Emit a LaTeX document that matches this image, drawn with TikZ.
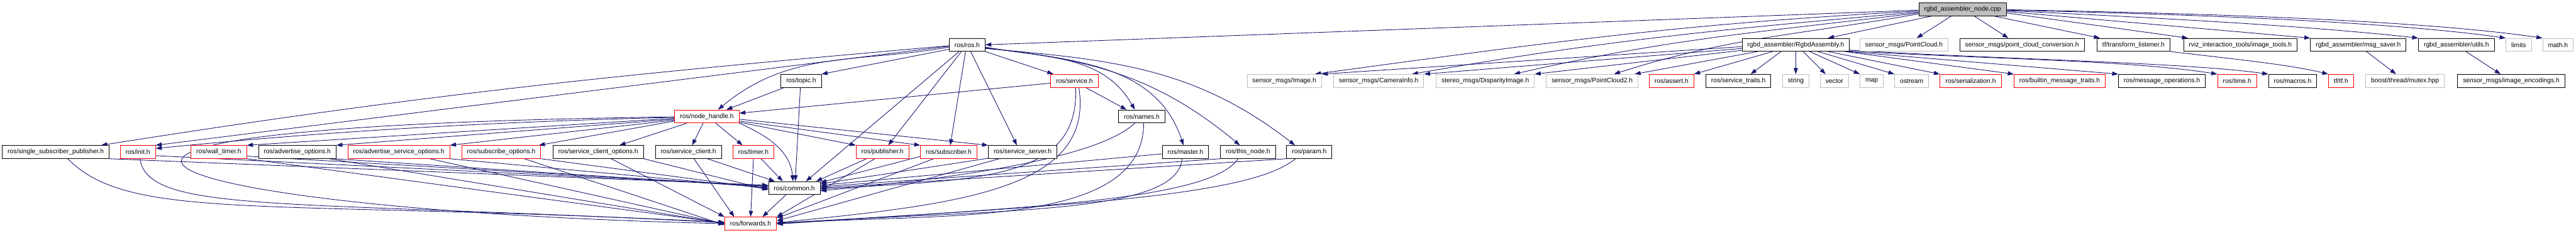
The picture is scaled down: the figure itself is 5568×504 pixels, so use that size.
\documentclass[tikz,border=0pt]{standalone}
\usepackage{fontspec}
\setmainfont{Liberation Sans}
\usetikzlibrary{arrows.meta, positioning, backgrounds}

\definecolor{edgeblue}{HTML}{191970}
\definecolor{grayline}{HTML}{BFBFBF}

\begin{document}
\begin{tikzpicture}[x=1pt, y=-1pt, font=\fontsize{14}{16}\selectfont]
    \tikzstyle{nodebox}=[draw, line width=1.2pt, minimum height=28pt, inner xsep=11.5pt, inner ysep=0pt, rectangle, fill=white]
    \tikzstyle{redbox}=[nodebox, draw=red]
    \tikzstyle{graybox}=[nodebox, draw=grayline]
    \tikzstyle{topbox}=[nodebox, fill=grayline]
    \tikzstyle{edge}=[->, >={Triangle[length=13pt, width=9pt]}, draw=edgeblue, line width=1.2pt]

    \useasboundingbox (0, 0) rectangle (5568, 504);

    % the file itself
    \node[topbox] (nodeCpp) at (4242, 20) {rgbd\_assembler\_node.cpp};

    % first level
    \node[nodebox] (rosH) at (2090.5, 97) {ros/ros.h};
    \node[nodebox] (assembly) at (3881.5, 97) {rgbd\_assembler/RgbdAssembly.h};
    \node[graybox] (pointCloud) at (4115.5, 97) {sensor\_msgs/PointCloud.h};
    \node[nodebox] (cloudConv) at (4370.5, 97) {sensor\_msgs/point\_cloud\_conversion.h};
    \node[nodebox] (tfListener) at (4611.5, 97) {tf/transform\_listener.h};
    \node[nodebox] (imageTools) at (4842.5, 97) {rviz\_interaction\_tools/image\_tools.h};
    \node[nodebox] (msgSaver) at (5097.5, 97) {rgbd\_assembler/msg\_saver.h};
    \node[nodebox] (utils) at (5309.5, 97) {rgbd\_assembler/utils.h};
    \node[graybox] (limits) at (5444, 97) {limits};
    \node[graybox] (mathH) at (5529, 97) {math.h};

    % second level
    \node[nodebox] (topic) at (1731.5, 175) {ros/topic.h};
    \node[redbox] (service) at (2322.5, 175) {ros/service.h};
    \node[graybox] (image) at (2776, 175) {sensor\_msgs/Image.h};
    \node[graybox] (camera) at (2980, 175) {sensor\_msgs/CameraInfo.h};
    \node[graybox] (disparity) at (3210.5, 175) {stereo\_msgs/DisparityImage.h};
    \node[graybox] (cloudTwo) at (3441.5, 175) {sensor\_msgs/PointCloud2.h};
    \node[redbox] (assertH) at (3613, 175) {ros/assert.h};
    \node[nodebox] (srvTraits) at (3757.5, 175) {ros/service\_traits.h};
    \node[graybox] (stringH) at (3881.5, 175) {string};
    \node[graybox] (vectorH) at (3965, 175) {vector};
    \node[graybox] (mapH) at (4045.5, 175) {map};
    \node[graybox] (ostream) at (4132, 175) {ostream};
    \node[redbox] (serialization) at (4259.5, 175) {ros/serialization.h};
    \node[redbox] (builtin) at (4452, 175) {ros/builtin\_message\_traits.h};
    \node[nodebox] (msgOps) at (4673, 175) {ros/message\_operations.h};
    \node[redbox] (timeH) at (4835.5, 175) {ros/time.h};
    \node[nodebox] (macros) at (4955.5, 175) {ros/macros.h};
    \node[redbox] (tfH) at (5060, 175) {tf/tf.h};
    \node[graybox] (mutex) at (5198.5, 175) {boost/thread/mutex.hpp};
    \node[nodebox] (encodings) at (5428, 175) {sensor\_msgs/image\_encodings.h};

    % third level
    \node[redbox] (nodeHandle) at (1528, 252) {ros/node\_handle.h};
    \node[nodebox] (names) at (2468, 252) {ros/names.h};

    % fourth level
    \node[nodebox] (singleSub) at (120.5, 329) {ros/single\_subscriber\_publisher.h};
    \node[redbox, right=23pt of singleSub] (init) {ros/init.h};
    \node[redbox] (wallTimer) at (473, 329) {ros/wall\_timer.h};
    \node[nodebox] (advOpts) at (642.5, 329) {ros/advertise\_options.h};
    \node[redbox] (advSrvOpts) at (862, 329) {ros/advertise\_service\_options.h};
    \node[redbox] (subOpts) at (1083.5, 329) {ros/subscribe\_options.h};
    \node[nodebox] (srvClientOpts) at (1293, 329) {ros/service\_client\_options.h};
    \node[nodebox] (srvClient) at (1488, 329) {ros/service\_client.h};
    \node[redbox] (timer) at (1628.5, 329) {ros/timer.h};
    \node[redbox] (publisher) at (1907.5, 329) {ros/publisher.h};
    \node[redbox] (subscriber) at (2050.5, 329) {ros/subscriber.h};
    \node[nodebox] (srvServer) at (2210.5, 329) {ros/service\_server.h};
    \node[nodebox] (master) at (2562.5, 329) {ros/master.h};
    \node[nodebox] (thisNode) at (2697.5, 329) {ros/this\_node.h};
    \node[nodebox] (param) at (2830, 329) {ros/param.h};

    % bottom
    \node[nodebox] (common) at (1717, 407) {ros/common.h};
    \node[redbox] (forwards) at (1622.5, 484) {ros/forwards.h};

    \begin{scope}[on background layer]
    % includes of the cpp file
    \draw[edge] ([yshift=-2pt]nodeCpp.west) -- (rosH.east);
    \draw[edge] ([yshift=-4pt]nodeCpp.west) .. controls (3637, 51) and (3352, 91) .. ([xshift=66pt]image.north);
    \draw[edge] ([yshift=-6pt]nodeCpp.west) .. controls (3717, 64) and (3477, 86) .. ([xshift=72pt]camera.north);
    \draw[edge] ([yshift=-8pt]nodeCpp.west) .. controls (3804, 70) and (3610, 83) .. ([xshift=62pt]disparity.north);
    \draw[edge] ([yshift=-10pt]nodeCpp.west) .. controls (3888, 76) and (3739, 80) .. ([xshift=47pt]cloudTwo.north);
    \draw[edge] ([xshift=29pt]nodeCpp.south west) -- ([xshift=69.5pt]assembly.north);
    \draw[edge] ([xshift=-24pt]nodeCpp.south) -- ([xshift=27.5pt]pointCloud.north);
    \draw[edge] ([xshift=25pt]nodeCpp.south) -- ([xshift=-29.5pt]cloudConv.north);
    \draw[edge] ([xshift=67pt]nodeCpp.south) -- ([xshift=-72.5pt]tfListener.north);
    \draw[edge] ([yshift=-8pt]nodeCpp.east) -- ([xshift=10pt]imageTools.north west);
    \draw[edge] ([yshift=-5pt]nodeCpp.east) -- (msgSaver.north west);
    \draw[edge] ([yshift=-3pt]nodeCpp.east) .. controls (4650, 38) and (4980, 55) .. (utils.north west);
    \draw[edge] ([yshift=-2pt]nodeCpp.east) .. controls (4700, 30) and (5150, 45) .. (limits.north west);
    \draw[edge] ([yshift=-1pt]nodeCpp.east) .. controls (4720, 28) and (5220, 42) .. (mathH.north west);

    % message header
    \draw[edge] ([yshift=-4pt]assembly.west) -- (image.north east);
    \draw[edge] ([yshift=-8pt]assembly.west) -- (camera.north east);
    \draw[edge] ([yshift=-12pt]assembly.west) -- (disparity.north east);
    \draw[edge] ([xshift=34pt]assembly.south west) -- ([xshift=-8pt]cloudTwo.north east);
    \draw[edge] ([xshift=-50pt]assembly.south) -- (assertH.north east);
    \draw[edge] ([xshift=-32pt]assembly.south) -- ([xshift=26.5pt]srvTraits.north);
    \draw[edge] (assembly.south) -- (stringH.north);
    \draw[edge] ([xshift=16pt]assembly.south) -- ([xshift=-19pt]vectorH.north);
    \draw[edge] ([xshift=30pt]assembly.south) -- (mapH.north west);
    \draw[edge] ([xshift=48pt]assembly.south) -- (ostream.north west);
    \draw[edge] ([xshift=70pt]assembly.south) -- (serialization.north west);
    \draw[edge] ([xshift=-10pt]assembly.south east) -- (builtin.north west);
    \draw[edge] ([xshift=-6pt]assembly.south east) -- (msgOps.north west);
    \draw[edge] ([yshift=1pt]assembly.south east) .. controls (4300, 128) and (4600, 130) .. (timeH.north west);
    \draw[edge] ([yshift=3pt]assembly.south east) .. controls (4320, 128) and (4720, 135) .. (macros.north west);

    \draw[edge] (tfListener.south east) .. controls (4830, 128) and (4950, 140) .. (tfH.north west);
    \draw[edge] ([xshift=17.5pt]msgSaver.south) -- ([xshift=-19.5pt]mutex.north);
    \draw[edge] ([xshift=20.5pt]utils.south) -- ([xshift=-23pt]encodings.north);

    % ros/ros.h
    \draw[edge] (rosH.south east) -- ([xshift=6pt]service.north west);
    \draw[edge] ([yshift=-5pt]rosH.east) .. controls (2265, 126) and (2385, 119) .. ([xshift=-15pt]names.north);
    \draw[edge] ([yshift=-6pt]rosH.east) .. controls (2315, 129) and (2500, 137) .. ([xshift=-4.5pt]master.north);
    \draw[edge] ([yshift=-7pt]rosH.east) .. controls (2360, 128) and (2503, 167) .. ([xshift=-17.5pt]thisNode.north);
    \draw[edge] ([yshift=-8pt]rosH.east) .. controls (2403, 129) and (2583, 146) .. ([xshift=-31pt]param.north);
    \draw[edge] ([xshift=7.5pt]rosH.south) -- ([xshift=-12.5pt]srvServer.north);
    \draw[edge] ([xshift=-3.5pt]rosH.south) -- ([xshift=3.5pt]subscriber.north);
    \draw[edge] ([xshift=-12.5pt]rosH.south) -- ([xshift=12.5pt]publisher.north);
    \draw[edge] ([xshift=-17.5pt]rosH.south) -- ([xshift=25pt]common.north);
    \draw[edge] ([yshift=5pt]rosH.south west) -- (topic.north east);
    \draw[edge] ([yshift=-2pt]rosH.west) .. controls (1332, 162) and (932, 202) .. ([xshift=-18pt]singleSub.north east);
    \draw[edge] ([yshift=-3pt]rosH.west) -- (init.north east);
    \draw[edge] ([yshift=-5pt]rosH.west) .. controls (1852, 137) and (1707, 108) .. ([xshift=24pt]nodeHandle.north);

    % ros/node_handle.h
    \draw[edge] ([xshift=-36.5pt]topic.south) -- ([xshift=42pt]nodeHandle.north);
    \draw[edge] ([yshift=-5pt]service.west) -- ([yshift=7pt]nodeHandle.east);
    \draw[edge] ([yshift=-2pt]nodeHandle.west) .. controls (1000, 265) and (650, 290) .. ([yshift=-7pt]init.north east);
    \draw[edge] ([yshift=-4pt]nodeHandle.west) -- (wallTimer.north east);
    \draw[edge] ([yshift=-6pt]nodeHandle.west) -- (advOpts.north east);
    \draw[edge] ([yshift=-8pt]nodeHandle.west) -- (advSrvOpts.north east);
    \draw[edge] ([yshift=-10pt]nodeHandle.west) -- ([xshift=-5pt]subOpts.north east);
    \draw[edge] ([xshift=27pt]nodeHandle.south west) -- ([xshift=46pt]srvClientOpts.north);
    \draw[edge] ([xshift=-8pt]nodeHandle.south) -- ([xshift=8pt]srvClient.north);
    \draw[edge] ([xshift=19pt]nodeHandle.south) -- ([xshift=-23.5pt]timer.north);
    \draw[edge] (nodeHandle.south east) .. controls (1659, 294) and (1708, 326) .. ([xshift=-3pt]common.north);
    \draw[edge] ([yshift=2pt]nodeHandle.south east) -- (publisher.north west);
    \draw[edge] ([yshift=-10pt]nodeHandle.east) -- (subscriber.north west);
    \draw[edge] ([yshift=-6pt]nodeHandle.east) -- (srvServer.north west);
    \draw[edge] ([yshift=-1pt]nodeHandle.west) .. controls (-250, 275) and (330, 455) .. (forwards.west);

    % ros/service.h and ros/names.h
    \draw[edge] ([xshift=24.5pt]service.south) -- ([xshift=-33pt]names.north);
    \draw[edge] ([xshift=2.5pt]service.south) .. controls (2333, 389) and (2124, 389) .. ([yshift=-2pt]common.east);
    \draw[edge] ([xshift=9.5pt]service.south) .. controls (2366, 409) and (2079, 442) .. ([yshift=2pt]forwards.east);
    \draw[edge] ([xshift=-15pt]names.south) .. controls (2373, 342) and (2074, 385) .. ([yshift=-6pt]common.east);
    \draw[edge] ([xshift=4pt]names.south) .. controls (2472, 497) and (2029, 460) .. (forwards.east);

    % down to ros/common.h and ros/forwards.h
    \draw[edge] (singleSub.south east) -- ([yshift=6pt]common.west);
    \draw[edge] ([xshift=26pt]singleSub.south) .. controls (280, 480) and (566, 431) .. ([yshift=3pt]forwards.west);
    \draw[edge] ([yshift=-8pt]init.east) -- ([yshift=5pt]common.west);
    \draw[edge] ([xshift=4.5pt]init.south) .. controls (319, 463) and (616, 432) .. ([yshift=2pt]forwards.west);
    \draw[edge] ([yshift=-9pt]wallTimer.east) -- ([yshift=4pt]common.west);
    \draw[edge] (wallTimer.south east) -- ([yshift=1pt]forwards.west);
    \draw[edge] ([xshift=-5pt]advOpts.south east) -- ([yshift=2pt]common.west);
    \draw[edge] ([xshift=-15pt]advOpts.south east) -- (forwards.west);
    \draw[edge] (advSrvOpts.south east) -- (common.west);
    \draw[edge] ([xshift=67pt]advSrvOpts.south) -- ([yshift=-1pt]forwards.west);
    \draw[edge] (subOpts.south east) -- ([yshift=-2pt]common.west);
    \draw[edge] ([xshift=50pt]subOpts.south) -- ([yshift=-3pt]forwards.west);
    \draw[edge] (srvClientOpts.south east) -- ([yshift=-4pt]common.west);
    \draw[edge] ([xshift=28pt]srvClientOpts.south) -- (forwards.north west);
    \draw[edge] ([xshift=12pt]srvClient.south) -- ([xshift=-35.5pt]forwards.north);
    \draw[edge] ([xshift=41pt]srvClient.south) -- ([xshift=-42pt]common.north);
    \draw[edge] (timer.south) -- (forwards.north);
    \draw[edge] ([xshift=16.5pt]timer.south) -- ([xshift=-25pt]common.north);
    \draw[edge] ([xshift=-34.5pt]publisher.south) -- ([xshift=47pt]common.north);
    \draw[edge] ([xshift=-16.5pt]publisher.south) -- (forwards.north east);
    \draw[edge] ([yshift=5pt]subscriber.south west) -- ([yshift=12pt]common.east);
    \draw[edge] ([xshift=-32.5pt]subscriber.south) -- ([yshift=-3pt]forwards.north east);
    \draw[edge] ([yshift=1pt]srvServer.south west) -- ([yshift=9pt]common.east);
    \draw[edge] ([xshift=24pt]srvServer.south west) -- ([yshift=6pt]forwards.east);
    \draw[edge] ([yshift=-4pt]master.west) -- ([yshift=6pt]common.east);
    \draw[edge] ([xshift=-7.5pt]master.south) .. controls (2545, 463) and (2179, 453) .. ([yshift=1pt]forwards.east);
    \draw[edge] (thisNode.south west) -- ([yshift=3pt]common.east);
    \draw[edge] ([xshift=-21.5pt]thisNode.south) .. controls (2616, 433) and (2229, 449) .. (forwards.east);
    \draw[edge] (param.south west) -- (common.east);
    \draw[edge] ([xshift=-30pt]param.south) .. controls (2700, 428) and (2279, 445) .. ([yshift=-1pt]forwards.east);
    \draw[edge] ([xshift=-1.5pt]topic.south) -- ([xshift=2pt]common.north);
    \draw[edge] ([xshift=-18pt]common.south) -- ([xshift=25.5pt]forwards.north);
    \end{scope}
\end{tikzpicture}
\end{document}
